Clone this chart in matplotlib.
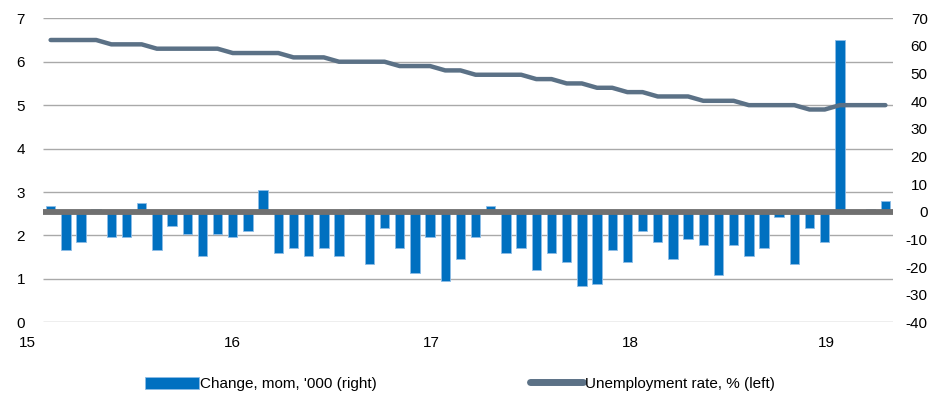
import matplotlib
matplotlib.use("Agg")
import matplotlib.pyplot as plt
import matplotlib.transforms as mtransforms
import numpy as np

plt.rcParams["font.family"] = ["Liberation Sans", "DejaVu Sans"]
plt.rcParams["font.size"] = 11
plt.rcParams["axes.unicode_minus"] = False

# monthly, Jan 2015 .. Aug 2019
change_k = [2, -14, -11, 1, -9, -9, 3, -14, -5, -8, -16, -8,
            -9, -7, 8, -15, -13, -16, -13, -16, 1, -19, -6, -13,
            -22, -9, -25, -17, -9, 2, -15, -13, -21, -15, -18, -27,
            -26, -14, -18, -7, -11, -17, -10, -12, -23, -12, -16, -13,
            -2, -19, -6, -11, 62, 0, 1, 4]
unemp_rate = [6.5, 6.5, 6.5, 6.5, 6.4, 6.4, 6.4, 6.3, 6.3, 6.3, 6.3, 6.3,
              6.2, 6.2, 6.2, 6.2, 6.1, 6.1, 6.1, 6.0, 6.0, 6.0, 6.0, 5.9,
              5.9, 5.9, 5.8, 5.8, 5.7, 5.7, 5.7, 5.7, 5.6, 5.6, 5.5, 5.5,
              5.4, 5.4, 5.3, 5.3, 5.2, 5.2, 5.2, 5.1, 5.1, 5.1, 5.0, 5.0,
              5.0, 5.0, 4.9, 4.9, 5.0, 5.0, 5.0, 5.0]
year_labels = ["15", "16", "17", "18", "19"]
left_ticks = [0, 1, 2, 3, 4, 5, 6, 7]
right_ticks = [-40, -30, -20, -10, 0, 10, 20, 30, 40, 50, 60, 70]

# the source chart puts its year labels every 13 categories
year_label_pos = [-1.5, 12, 25.1, 38.2, 51.1]

BAR_BLUE = "#0070C0"
LINE_GREY = "#5B7186"
ZERO_GREY = "#707070"
GRID_GREY = "#A9A9A9"

x = np.arange(len(change_k))

fig = plt.figure(figsize=(9.5, 4.11), dpi=100)
ax_bar = fig.add_axes([0.0453, 0.2158, 0.8947, 0.7397])
ax_line = ax_bar.twinx()

# bars on the bottom axes so the rate line sits on top of them
ax_bar.bar(x, change_k, width=0.62, color=BAR_BLUE, edgecolor="#8DBCE6",
           linewidth=0.6, zorder=2, label="Change, mom, '000 (right)")
ax_bar.axhline(0, color=ZERO_GREY, linewidth=4.2, zorder=3)
ax_bar.set_ylim(right_ticks[0], right_ticks[-1])
ax_bar.set_yticks(right_ticks)
ax_bar.set_yticklabels([str(v) for v in right_ticks])
ax_bar.yaxis.tick_right()
ax_bar.tick_params(axis="y", length=0, pad=25)
for t in ax_bar.yaxis.get_ticklabels():
    t.set_horizontalalignment("right")

# gridlines follow the left (rate) scale
blend = mtransforms.blended_transform_factory(ax_bar.transAxes, ax_line.transData)
ax_bar.hlines(left_ticks, 0, 1, transform=blend, color=GRID_GREY,
              linewidth=1.0, zorder=0)

ax_line.plot(x, unemp_rate, color=LINE_GREY, linewidth=3.2,
             solid_capstyle="round", solid_joinstyle="round", zorder=4,
             label="Unemployment rate, % (left)")
ax_line.set_ylim(left_ticks[0], left_ticks[-1])
ax_line.set_yticks(left_ticks)
ax_line.yaxis.tick_left()
ax_line.tick_params(axis="y", length=0, pad=13)

ax_bar.set_xlim(-0.5, len(x) - 0.5)
ax_bar.set_xticks([])
xlab_tf = mtransforms.blended_transform_factory(ax_bar.transData, ax_bar.transAxes)
for pos, lab in zip(year_label_pos, year_labels):
    ax_bar.text(pos, -0.045, lab, transform=xlab_tf, ha="center", va="top",
                clip_on=False)

for a in (ax_bar, ax_line):
    for s in a.spines.values():
        s.set_visible(False)

h1, l1 = ax_bar.get_legend_handles_labels()
h2, l2 = ax_line.get_legend_handles_labels()
leg = fig.legend(h1 + h2, l1 + l2, loc="center", bbox_to_anchor=(0.484, 0.066),
                 ncol=2, frameon=False, handlelength=3.5, handleheight=0.9,
                 handletextpad=0.1, columnspacing=10.0)
for lh in leg.get_lines():
    lh.set_linewidth(5)

fig.savefig("out.png", dpi=100)
